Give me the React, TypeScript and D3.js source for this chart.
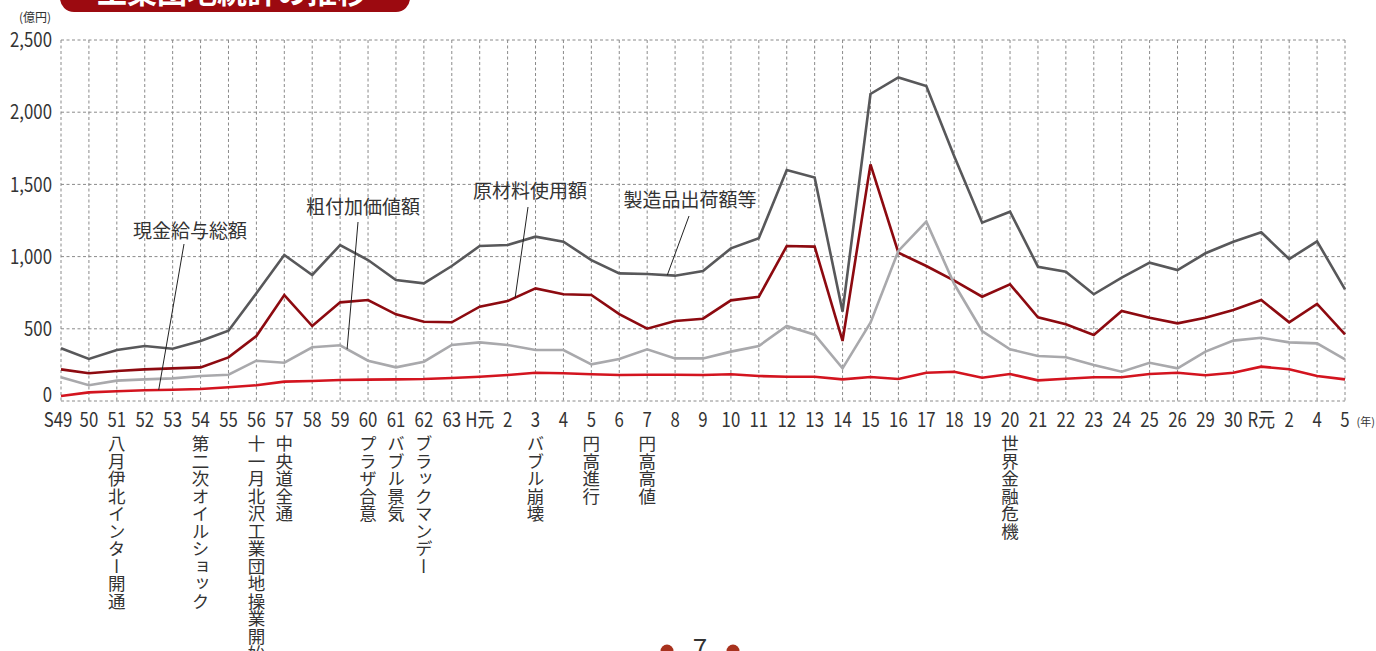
import * as d3 from 'd3'

// 年次（昭和49年〜令和5年）
const years = [
  'S49', '50', '51', '52', '53', '54', '55', '56', '57', '58', '59', '60', '61', '62', '63',
  'H元', '2', '3', '4', '5', '6', '7', '8', '9', '10', '11', '12', '13', '14', '15', '16',
  '17', '18', '19', '20', '21', '22', '23', '24', '25', '26', '29', '30',
  'R元', '2', '4', '5',
]

// 億円
const shipments = [
  365, 291, 353, 381, 362, 415, 487, 746, 1011, 873, 1080, 976, 838, 815, 935,
  1073, 1080, 1138, 1103, 976, 884, 879, 868, 900, 1057, 1127, 1600, 1547, 619, 2126, 2241,
  2181, 1695, 1235, 1311, 930, 896, 739, 854, 958, 907, 1023, 1103,
  1168, 983, 1106, 773,
]
const materials = [
  219, 192, 208, 219, 226, 233, 302, 450, 734, 519, 683, 699, 600, 549, 545,
  653, 692, 780, 739, 734, 602, 501, 554, 570, 697, 722, 1073, 1069, 416, 1639, 1027,
  935, 833, 722, 808, 580, 531, 457, 623, 577, 538, 577, 630,
  699, 545, 672, 462,
]
const valueAdded = [
  164, 109, 141, 150, 157, 173, 182, 279, 265, 372, 386, 279, 233, 272, 388,
  406, 388, 353, 353, 254, 291, 358, 295, 295, 342, 381, 519, 459, 226, 542, 1039,
  1242, 810, 485, 358, 312, 303, 249, 203, 265, 226, 342, 418,
  438, 406, 399, 289,
]
const wages = [
  35, 60, 67, 74, 78, 83, 95, 109, 134, 138, 145, 148, 150, 152, 159,
  168, 180, 196, 192, 185, 180, 182, 182, 180, 185, 173, 168, 168, 150, 166, 152,
  196, 203, 161, 187, 143, 154, 164, 164, 187, 196, 178, 196,
  238, 220, 173, 150,
]

const yTicks = [0, 500, 1000, 1500, 2000, 2500]

// 出来事（年のインデックスと文言）
const events: [number, string][] = [
  [2, '八月伊北インター開通'],
  [5, '第二次オイルショック'],
  [7, '十一月北沢工業団地操業開始'],
  [8, '中央道全通'],
  [11, 'プラザ合意'],
  [12, 'バブル景気'],
  [13, 'ブラックマンデー'],
  [17, 'バブル崩壊'],
  [19, '円高進行'],
  [21, '円高高値'],
  [34, '世界金融危機'],
]

const series = [
  { name: '製造品出荷額等', values: shipments, color: '#58585a' },
  { name: '原材料使用額', values: materials, color: '#8d0a10' },
  { name: '粗付加価値額', values: valueAdded, color: '#a9a9ac' },
  { name: '現金給与総額', values: wages, color: '#d3141f' },
]

// ラベル位置と引き出し線の先（系列、年インデックス）
const callouts = [
  { series: 3, at: 3.5, label: [190, 238], from: [184, 244] },
  { series: 2, at: 10.25, label: [363, 214], from: [358, 222] },
  { series: 1, at: 16.27, label: [530, 198], from: [528, 207] },
  { series: 0, at: 21.72, label: [690, 207], from: [689, 216] },
]

const W = 1376
const H = 651
const jp = '"Noto Sans CJK JP", "Noto Sans", sans-serif'
const squeeze = 0.84

export default function App() {
  const x = d3.scaleLinear().domain([0, years.length - 1]).range([61, 1345])
  const y = d3.scaleLinear().domain([0, 2500]).range([401, 40])

  const line = d3
    .line<number>()
    .x((_, i) => x(i))
    .y((d) => y(d))

  const valueAt = (vals: number[], t: number) => {
    const i = Math.floor(t)
    const f = t - i
    return vals[i] + f * (vals[i + 1] - vals[i])
  }

  return (
    <div style={{ position: 'fixed', left: 0, top: 0 }}>
      <svg width={W} height={H} style={{ display: 'block', background: '#fff' }}>
        {/* title banner */}
        <rect x={60} y={-30} width={350} height={42} rx={14} fill="#9c0a10" />
        <text x={97} y={3} fill="#fff" fontFamily={jp} fontWeight={700} fontSize={30}>
          工業団地統計の推移
        </text>

        <text x={35} y={22} textAnchor="middle" fontFamily={jp} fontSize={12} fill="#333">
          (億円)
        </text>

        {/* grid */}
        <g stroke="#8a8a8a" strokeWidth={1} strokeDasharray="3,2.5">
          {yTicks.map((t) => (
            <line key={'h' + t} x1={x(0)} x2={x(years.length - 1)} y1={y(t)} y2={y(t)} />
          ))}
          {years.map((_, i) => (
            <line key={'v' + i} x1={x(i)} x2={x(i)} y1={y(2500)} y2={y(0)} />
          ))}
        </g>

        {/* y labels (0 sits a little above its line) */}
        {yTicks.map((t) => (
          <text
            key={'yl' + t}
            transform={`translate(52,${y(t) - (t === 0 ? 6 : 0)}) scale(${squeeze},1)`}
            dy="0.36em"
            textAnchor="end"
            fontFamily={jp}
            fontSize={20}
            fill="#333"
          >
            {d3.format(',')(t)}
          </text>
        ))}

        {/* x labels */}
        {years.map((yr, i) => (
          <text
            key={'xl' + i}
            transform={`translate(${x(i) + (i === 0 ? -3 : 0)},427) scale(${squeeze},1)`}
            textAnchor="middle"
            fontFamily={jp}
            fontSize={20}
            fill="#333"
          >
            {yr}
          </text>
        ))}
        <text x={1375} y={426} textAnchor="end" fontFamily={jp} fontSize={11} fill="#333">
          (年)
        </text>

        {/* series lines */}
        {series.map((s) => (
          <path
            key={s.name}
            d={line(s.values) ?? ''}
            fill="none"
            stroke={s.color}
            strokeWidth={2.6}
            strokeLinejoin="miter"
          />
        ))}

        {/* callouts */}
        {callouts.map((c) => {
          const s = series[c.series]
          const tx = x(c.at)
          const ty = y(valueAt(s.values, c.at))
          return (
            <g key={'c' + s.name}>
              <line x1={c.from[0]} y1={c.from[1]} x2={tx} y2={ty} stroke="#222" strokeWidth={1} />
              <text
                x={c.label[0]}
                y={c.label[1]}
                textAnchor="middle"
                fontFamily={jp}
                fontSize={19}
                fill="#333"
              >
                {s.name}
              </text>
            </g>
          )
        })}

        {/* events (vertical text) */}
        {events.map(([i, txt]) => (
          <text
            key={'e' + i}
            x={x(i)}
            y={435}
            fontFamily={jp}
            fontSize={17.5}
            fill="#333"
            style={{ writingMode: 'vertical-rl' }}
          >
            {txt}
          </text>
        ))}

        {/* page number */}
        <circle cx={667} cy={651} r={6.5} fill="#a8321e" />
        <circle cx={733} cy={651} r={6.5} fill="#a8321e" />
        <text x={700} y={658} textAnchor="middle" fontFamily={jp} fontSize={26} fill="#333">
          7
        </text>
      </svg>
    </div>
  )
}
